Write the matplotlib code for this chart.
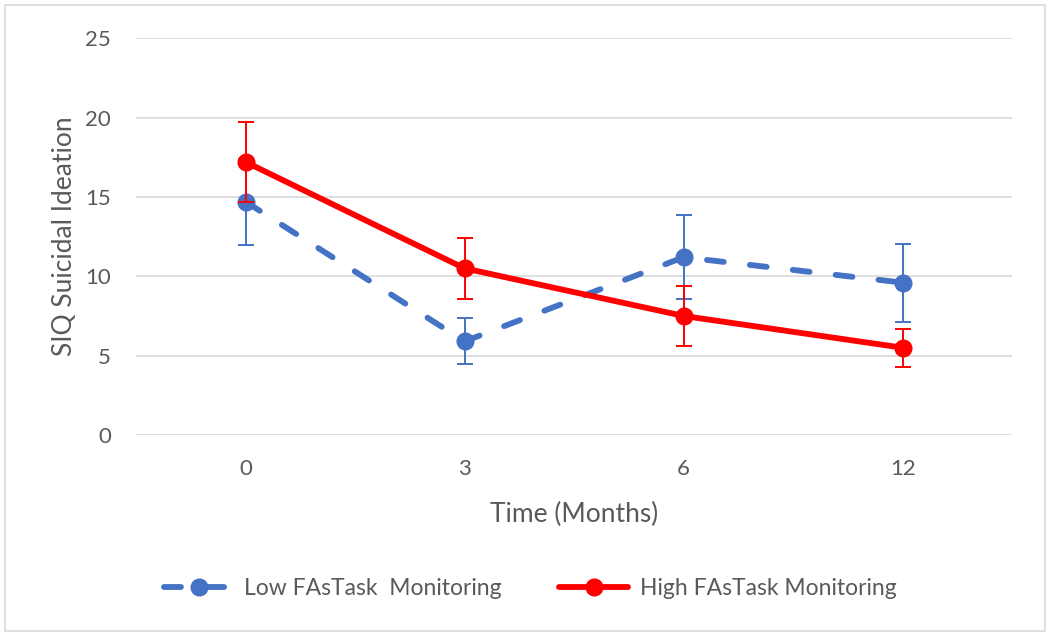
import matplotlib
matplotlib.use('Agg')
from matplotlib import pyplot as plt
from matplotlib.patches import Rectangle

# data
months = ['0', '3', '6', '12']
low_mean = [14.7, 5.9, 11.2, 9.6]
low_err = [2.7, 1.45, 2.65, 2.45]
high_mean = [17.2, 10.5, 7.5, 5.5]
high_err = [2.5, 1.9, 1.9, 1.2]

blue = '#4472C4'
red = '#FF0000'
text_grey = '#595959'
grid_grey = '#D9D9D9'

plt.rcParams['font.family'] = ['Lato', 'DejaVu Sans']

fig = plt.figure(figsize=(10.5, 6.36), dpi=100)
ax = fig.add_axes([0.1295, 0.316, 0.8345, 0.624])

x = list(range(len(months)))

# low monitoring (dashed)
ax.errorbar(x, low_mean, yerr=low_err, fmt='none', ecolor=blue, elinewidth=1.4,
            capsize=5.5, capthick=1.4, zorder=2)
low_line, = ax.plot(x, low_mean, color=blue, lw=4.2, linestyle=(0, (2.9, 4.5)),
                    dash_capstyle='round', marker='o', markersize=12,
                    label='Low FAsTask  Monitoring', zorder=3)

# high monitoring (solid)
ax.errorbar(x, high_mean, yerr=high_err, fmt='none', ecolor=red, elinewidth=1.4,
            capsize=5.5, capthick=1.4, zorder=4)
high_line, = ax.plot(x, high_mean, color=red, lw=4.2, solid_capstyle='round',
                     marker='o', markersize=12,
                     label='High FAsTask Monitoring', zorder=5)

ax.set_xlim(-0.5, len(months) - 0.5)
ax.set_ylim(0, 25)
ax.set_yticks([0, 5, 10, 15, 20, 25])
ax.set_xticks(x)
ax.set_xticklabels(months)
ax.yaxis.grid(True, color=grid_grey, linewidth=1.2)
ax.set_axisbelow(True)
for s in ax.spines.values():
    s.set_visible(False)
ax.tick_params(length=0, labelsize=16, labelcolor=text_grey)
ax.tick_params(axis='y', pad=18)
ax.tick_params(axis='x', pad=17)

ax.set_ylabel('SIQ Suicidal Ideation', fontsize=19, color=text_grey)
ax.yaxis.set_label_coords(-0.067, 0.5)
ax.set_xlabel('Time (Months)', fontsize=19, color=text_grey, labelpad=16.5)

leg = fig.legend(handles=[low_line, high_line], loc='center', bbox_to_anchor=(0.505, 0.075),
                 ncol=2, frameon=False, fontsize=16.5, handlelength=3.0,
                 columnspacing=2.5, handletextpad=0.5, labelcolor=text_grey)

# outer chart border
fig.patches.append(Rectangle((0.005, 0.008), 0.99, 0.984, transform=fig.transFigure,
                             fill=False, edgecolor=grid_grey, linewidth=1.2))

plt.savefig('out.png', dpi=100)
